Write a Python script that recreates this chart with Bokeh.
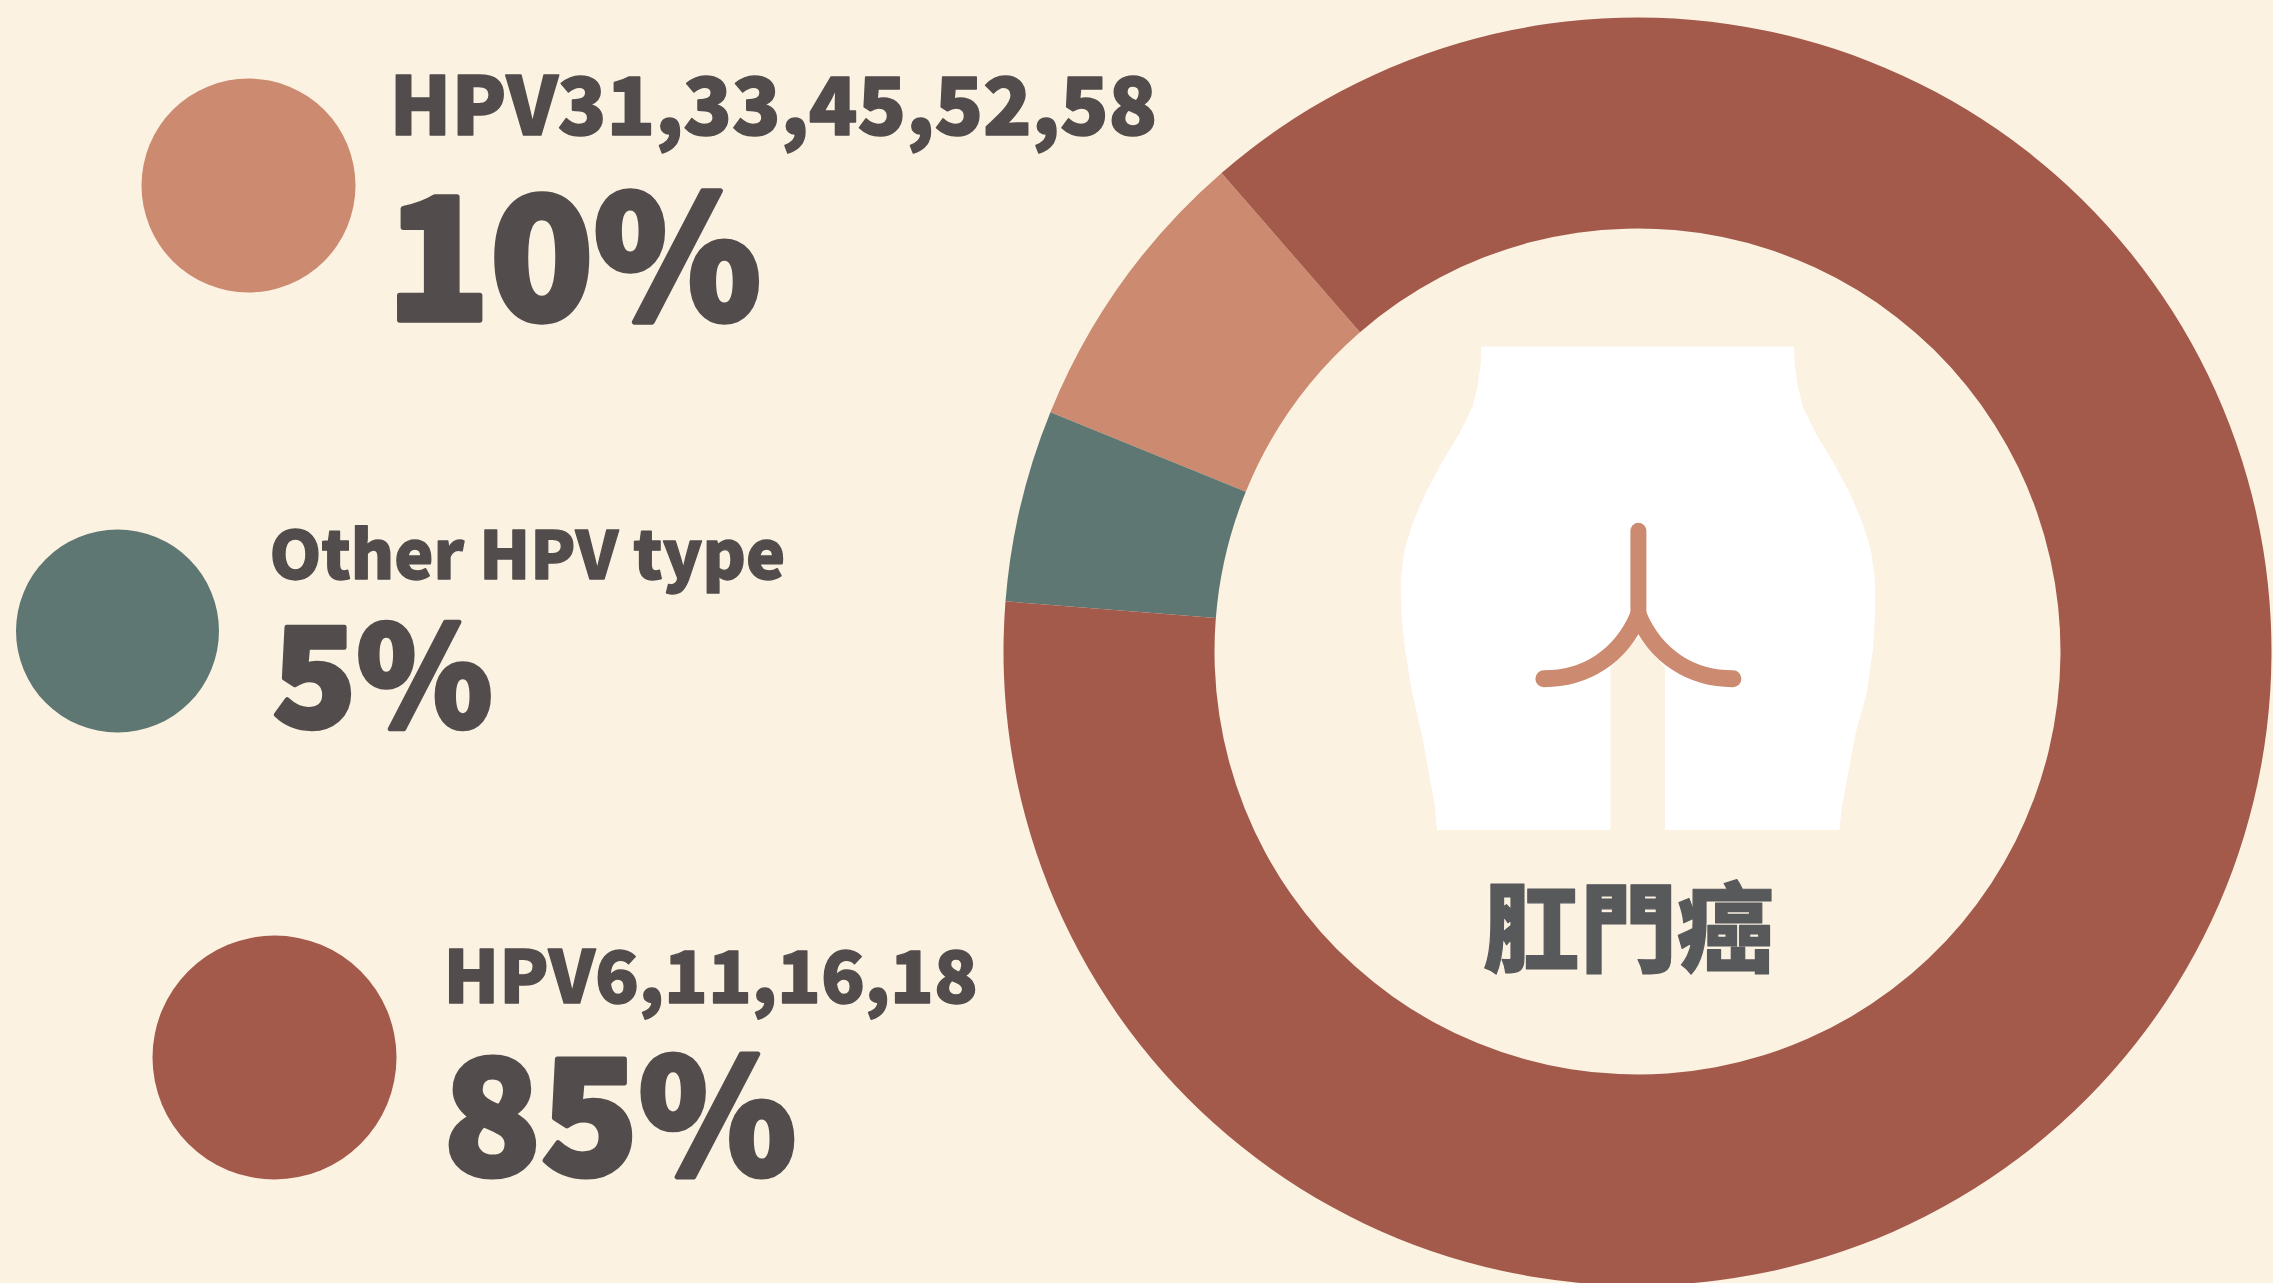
from bokeh.plotting import figure
from bokeh.embed import file_html
from bokeh.resources import INLINE
from bokeh.core.properties import value
import math

# ---- data ----
categories = ["HPV31,33,45,52,58", "Other HPV type", "HPV6,11,16,18"]
percent_labels = ["10%", "5%", "85%"]
drawn_share = [7.45, 4.9, 87.65]   # share of the ring as drawn
colors = ["#CC8A70", "#5F7772", "#A35A4B"]
title_text = "肛門癌"

BG = "#FBF2E2"
INK = "#524D4C"
W, H = 2273, 1283
HEAVY = "Noto Sans CJK TC Black"

p = figure(width=W, height=H, x_range=(0, W), y_range=(0, H), output_backend="svg",
           toolbar_location=None, background_fill_color=BG, border_fill_color=BG,
           min_border=0, outline_line_color=None)
p.axis.visible = False
p.grid.visible = False

def Y(v):
    return H - v

def text_y(baseline, size):
    return Y(baseline - 0.445 * size)

# ---- ring ----
cx, cy, r_in, r_out = 1637, 651, 423, 634
a = math.radians(131)
for share, col in zip(drawn_share, colors):
    b = a + share / 100 * 2 * math.pi
    p.annular_wedge(x=cx, y=Y(cy), inner_radius=r_in, outer_radius=r_out, start_angle=a, end_angle=b,
                    fill_color=col, line_color=None)
    a = b

# ---- silhouette ----
ox, oy, sx, sy = 1350, 320, 2.751, 2.306
def Z(pts):
    return [ox + q[0] / sx for q in pts], [Y(oy + q[1] / sy) for q in pts]

body = [(360,60),(358,100),(350,150),(335,200),(300,260),(250,330),(205,400),(170,470),(148,530),(138,600),
        (140,680),(150,760),(170,860),(195,950),(215,1040),(232,1120),(238,1175),(715,1175),(715,800),(792,730),
        (865,800),(865,1175),(1345,1175),(1352,1120),(1370,1040),(1390,950),(1420,860),(1437,760),(1443,680),
        (1443,600),(1432,530),(1410,470),(1375,400),(1330,330),(1280,260),(1245,200),(1230,150),(1222,100),(1220,60)]
bx, by = Z(body)
p.patch(bx, by, fill_color="#FFFFFF", line_color=None)

vx, vy = Z([(792,485),(792,690)])
p.line(vx, vy, line_color=colors[0], line_width=16, line_cap="round")
for sgn in (-1, 1):
    (x0, x1, x2, x3), (y0, y1, y2, y3) = Z([(792+sgn*260,826),(792+sgn*145,826),(792+sgn*48,775),(792,680)])
    p.bezier(x0=x0, y0=y0, cx0=x1, cy0=y1, cx1=x2, cy1=y2, x1=x3, y1=y3,
             line_color=colors[0], line_width=17, line_cap="round")

# ---- title ----
p.text(x=[1628], y=[text_y(964, 97)], text=[title_text], text_font=value(HEAVY), text_font_style="bold",
       text_font_size="97px", text_color="#58595B", text_outline_color="#58595B", text_align="center", text_baseline="alphabetic")

# ---- legend ----
dots = [(248, 185, 107), (117, 630.5, 101.5), (274, 1057, 122)]
names = [(389, 135, 80), (269, 579, 66), (443, 1003, 72)]
pcts = [(386, 321, 170), (272, 728, 138), (443, 1176, 160)]
for i in range(3):
    dx, dy, dr = dots[i]
    p.circle(x=[dx], y=[Y(dy)], radius=dr, fill_color=colors[i], line_color=None)
    nx, ny, ns = names[i]
    p.text(x=[nx], y=[text_y(ny, ns)], text=[categories[i]], text_font=value(HEAVY), text_font_style="bold",
           text_font_size=f"{ns}px", text_color=INK, text_outline_color=INK, text_baseline="alphabetic")
    px_, py_, ps = pcts[i]
    p.text(x=[px_], y=[text_y(py_, ps)], text=[percent_labels[i]], text_font=value(HEAVY), text_font_style="bold",
           text_font_size=f"{ps}px", text_color=INK, text_outline_color=INK, text_baseline="alphabetic")

# the reference's lettering carries a heavier outline than Bokeh's default 1px text outline
thicken = """<script>
function thicken(root){root.querySelectorAll('*').forEach(function(e){
  if(e.shadowRoot){thicken(e.shadowRoot);}
  if(e.tagName==='text'&&e.getAttribute('stroke')&&e.getAttribute('stroke')!=='none'){
    var s=parseFloat(getComputedStyle(e).fontSize);
    e.setAttribute('stroke-width',s>=130?s*0.032:(s>90?1.2:s*0.02));
    e.setAttribute('stroke-linejoin','round');
  }
});}
var n=0,t=setInterval(function(){thicken(document);if(++n>20){clearInterval(t);}},100);
</script>"""
html = file_html(p, INLINE)
html = html.replace("<head>", f"<head><style>html,body{{margin:0;background:{BG};overflow:hidden}}</style>", 1)
html = html.replace("</body>", thicken + "</body>", 1)
open("out.html", "w").write(html)
